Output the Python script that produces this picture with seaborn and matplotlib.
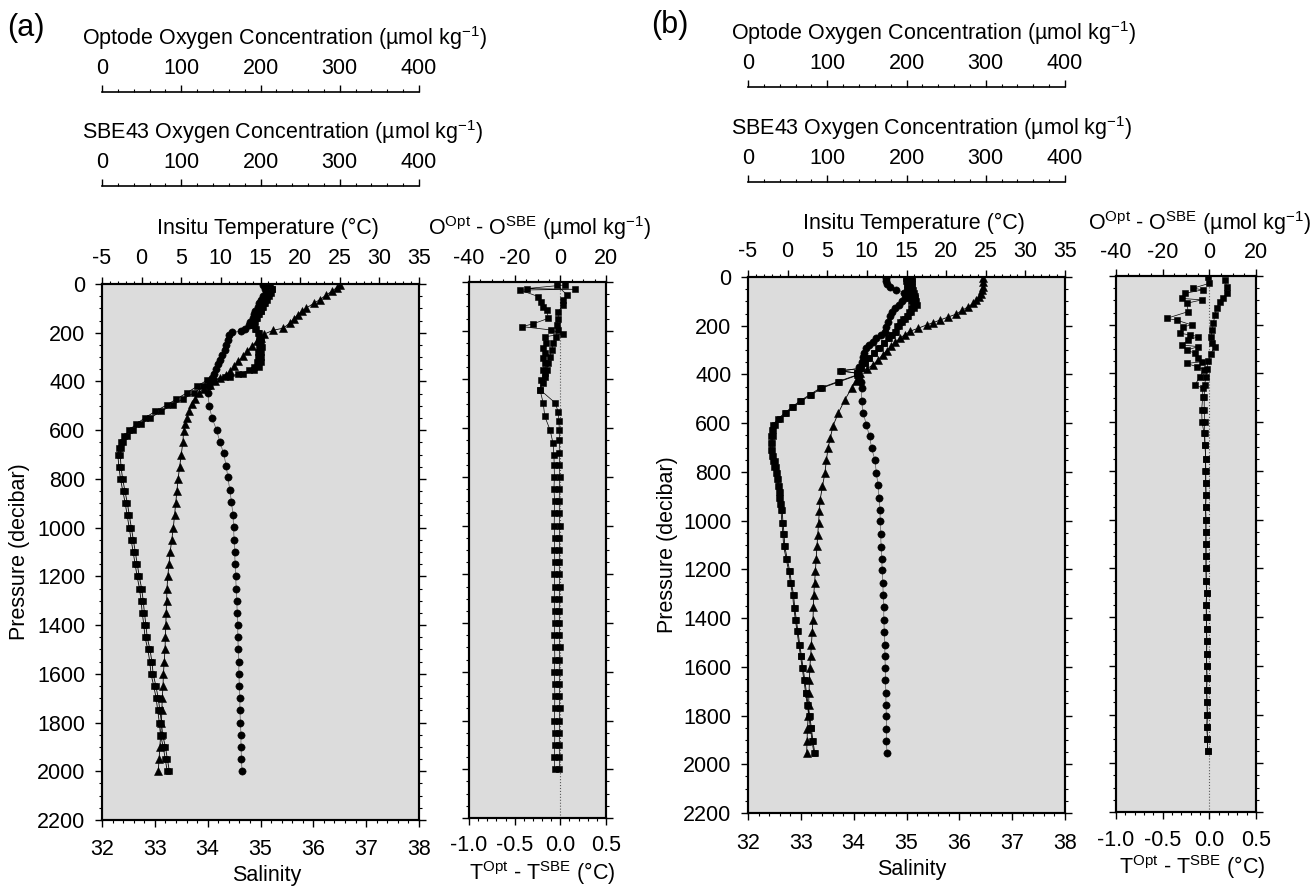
import matplotlib
matplotlib.use('Agg')
import matplotlib.pyplot as plt
from matplotlib.ticker import MultipleLocator, FormatStrFormatter
import seaborn as sns

# ---------------- data : panel (a) ----------------
P_TEMP_A = [4, 15, 30, 45, 64, 80, 98, 112, 126, 143, 160, 181, 190, 205, 220, 235, 255, 276, 297, 317,
            338, 358, 372, 386, 400, 413, 430, 447, 470, 494, 520, 549, 575, 603, 650, 700, 750, 800, 850, 900,
            950, 1000, 1050, 1100, 1150, 1200, 1250, 1300, 1350, 1400, 1450, 1500, 1550, 1600, 1650, 1700,
            1750, 1800, 1850, 1900, 1950, 2000]
TEMP_A = [25.0, 24.6, 24.0, 23.3, 22.5, 21.7, 20.8, 20.2, 19.7, 19.2, 18.7, 17.9, 16.6, 15.5, 15.0, 14.5,
          13.9, 13.3, 12.8, 12.2, 11.7, 11.2, 10.6, 9.9, 9.2, 8.6, 7.9, 7.2, 6.7, 6.3, 6.0, 5.7, 5.5, 5.3,
          5.2, 5.0, 4.8, 4.6, 4.45, 4.3, 4.15, 4.0, 3.8, 3.6, 3.45, 3.3, 3.2, 3.15, 3.1, 3.05, 3.0, 2.95,
          2.85, 2.75, 2.7, 2.6, 2.55, 2.5, 2.4, 2.3, 2.2, 2.1]

P_SAL_A = [5, 20, 35, 50, 65, 80, 95, 110, 125, 140, 155, 170, 185, 193, 197, 210, 230, 250, 270, 290,
           310, 330, 350, 370, 385, 400, 420, 447, 500, 548, 600, 648, 694, 745, 792, 846, 895, 948, 998,
           1050, 1100, 1150, 1200, 1250, 1300, 1350, 1400, 1450, 1500, 1550, 1600, 1650, 1700, 1750, 1800,
           1850, 1900, 1950, 2000]
SAL_A = [35.05, 35.08, 35.1, 35.05, 35.0, 34.98, 34.95, 34.9, 34.88, 34.85, 34.8, 34.78, 34.7, 34.64,
         34.46, 34.4, 34.38, 34.35, 34.32, 34.28, 34.24, 34.2, 34.16, 34.12, 34.08, 34.04, 34.02, 34.0,
         34.03, 34.08, 34.17, 34.23, 34.3, 34.35, 34.38, 34.42, 34.45, 34.48, 34.49, 34.5, 34.51, 34.52,
         34.53, 34.54, 34.55, 34.56, 34.57, 34.57, 34.58, 34.59, 34.59, 34.6, 34.61, 34.61, 34.62, 34.63,
         34.63, 34.64, 34.65]

P_OX_A = [5, 20, 35, 50, 65, 80, 95, 110, 125, 140, 155, 170, 185, 200, 220, 240, 260, 280, 300, 320,
          340, 355, 370, 382, 394, 420, 447, 472, 497, 523, 550, 575, 600, 625, 648, 675, 702, 750, 800,
          850, 900, 950, 1000, 1050, 1100, 1150, 1200, 1250, 1300, 1350, 1400, 1450, 1500, 1550, 1600,
          1650, 1700, 1750, 1800, 1850, 1900, 1950, 2000]
OX_SBE_A = [212, 214, 211, 208, 206, 204, 202, 200, 198, 195, 193, 192, 194, 198, 200, 201, 202, 201, 201,
            200, 198, 192, 178, 162, 140, 128, 116, 102, 89, 74, 61, 49, 39, 32, 27, 24, 23, 24, 26, 29,
            32, 34.5, 37, 39.5, 42, 44.5, 47, 50, 52, 53.5, 55.5, 57, 60.5, 63, 64.5, 68, 71, 73, 75, 76.5,
            80, 82.5, 85]
OX_OPT_A = [210.5, 215, 213.5, 211, 208, 205.3, 203.3, 200, 197, 194, 192, 190.5, 192.7, 197, 198, 198.4,
            198.7, 197.2, 196.6, 195, 192.3, 185.5, 171.6, 155.3, 132.8, 120, 107, 94, 81.5, 67, 54, 43,
            34.5, 28, 23.5, 21, 20, 21.3, 23.3, 26.3, 29.3, 31.8, 34.3, 36.8, 39.3, 41.8, 44.3, 47.3, 49.3,
            50.8, 52.8, 54.3, 57.8, 60.3, 61.8, 65.3, 68.3, 70.3, 72.3, 73.8, 77.3, 79.8, 82.3]

P_DO_A = [12, 53, 74, 94, 122, 150, 176, 197, 225, 252, 279, 306, 334, 361, 389, 415, 443, 497, 552, 607,
          662, 710, 750, 800, 850, 900, 950, 1000, 1050, 1100, 1150, 1200, 1250, 1300, 1350, 1400, 1450,
          1500, 1550, 1600, 1650, 1700, 1750, 1800, 1850, 1900, 1950, 2000]
DO_A = [-1.6, 2.9, 1.3, 1.3, -0.9, -0.9, -1.6, -1.0, -2.0, -3.1, -3.8, -4.6, -5.3, -6.0, -6.8, -7.8, -8.9,
        -7.5, -6.8, -4.5, -3.2, -2.8, -2.7, -2.6, -2.8, -2.5, -2.6, -2.7, -2.5, -2.6, -2.4, -2.6, -2.5,
        -2.7, -2.5, -2.4, -2.6, -2.5, -2.4, -2.6, -2.5, -2.4, -2.5, -2.6, -2.4, -2.5, -2.6, -2.5]

P_DT_A = [12, 27, 30, 33, 60, 81, 101, 115, 149, 172, 183, 197, 213, 225, 252, 272, 293, 313, 334, 361,
          375, 402, 443, 495, 532, 570, 607, 650, 700, 750, 800, 850, 900, 950, 1000, 1050, 1100, 1150,
          1200, 1250, 1300, 1350, 1400, 1450, 1500, 1550, 1600, 1650, 1700, 1750, 1800, 1850, 1900, 1950,
          2000]
DT_A = [0.05, -0.37, 0.16, -0.44, -0.24, -0.21, -0.19, -0.15, -0.13, -0.30, -0.42, -0.10, 0.03, -0.17,
        -0.16, -0.19, -0.17, -0.19, -0.17, -0.19, -0.17, -0.21, -0.22, -0.06, -0.023, -0.015, -0.012,
        -0.01, -0.012, -0.01, -0.008, -0.01, -0.012, -0.01, -0.008, -0.01, -0.01, -0.012, -0.01, -0.008,
        -0.01, -0.012, -0.01, -0.01, -0.008, -0.01, -0.012, -0.01, -0.01, -0.008, -0.01, -0.01, -0.012,
        -0.01, -0.01]

# ---------------- data : panel (b) ----------------
P_TEMP_B = [3, 20, 40, 55, 70, 81, 95, 108, 122, 137, 152, 165, 177, 187, 196, 210, 223, 237, 250, 268,
            285, 302, 319, 340, 360, 377, 394, 425, 455, 505, 558, 613, 660, 702, 750, 804, 859, 914, 962,
            1010, 1058, 1106, 1157, 1208, 1256, 1304, 1355, 1407, 1458, 1509, 1557, 1605, 1656, 1707, 1755,
            1803, 1855, 1906, 1953]
TEMP_B = [24.6, 24.6, 24.6, 24.5, 24.4, 24.2, 23.8, 23.4, 22.8, 22.0, 21.3, 20.2, 19.2, 18.4, 17.6, 16.5,
          15.4, 14.8, 14.2, 13.6, 13.1, 12.5, 12.0, 11.4, 10.8, 10.0, 9.1, 8.6, 8.1, 7.2, 6.4, 5.7, 5.4,
          5.1, 4.9, 4.7, 4.4, 4.1, 4.0, 3.9, 3.8, 3.7, 3.6, 3.5, 3.4, 3.3, 3.25, 3.2, 3.1, 3.0, 2.9, 2.8,
          2.75, 2.7, 2.65, 2.6, 2.5, 2.45, 2.4]

P_SAL_B = [3, 15, 28, 40, 52, 64, 76, 88, 100, 115, 129, 145, 160, 183, 205, 224, 238, 252, 266, 280,
           293, 310, 328, 347, 368, 389, 410, 432, 456, 511, 558, 606, 654, 702, 750, 804, 852, 907, 955,
           1003, 1054, 1108, 1157, 1204, 1255, 1304, 1355, 1407, 1458, 1509, 1557, 1605, 1656, 1707, 1755,
           1803, 1855, 1906, 1953]
SAL_B = [34.62, 34.62, 34.63, 34.68, 34.8, 34.95, 35.0, 34.97, 34.92, 34.85, 34.78, 34.72, 34.69, 34.65,
         34.62, 34.59, 34.52, 34.43, 34.36, 34.29, 34.24, 34.2, 34.17, 34.15, 34.11, 34.08, 34.1, 34.13,
         34.15, 34.15, 34.18, 34.24, 34.3, 34.34, 34.4, 34.43, 34.46, 34.48, 34.5, 34.5, 34.51, 34.52,
         34.53, 34.54, 34.55, 34.56, 34.57, 34.57, 34.58, 34.59, 34.59, 34.6, 34.6, 34.61, 34.61, 34.62,
         34.62, 34.62, 34.63]

P_OX_B = [3, 15, 28, 40, 52, 64, 76, 88, 100, 115, 129, 145, 160, 172, 183, 200, 224, 238, 252, 270, 293,
          313, 334, 355, 375, 385, 395, 402, 430, 456, 483, 510, 535, 558, 582, 606, 630, 654, 680, 709,
          733, 757, 780, 804, 830, 859, 882, 907, 930, 955, 1010, 1054, 1106, 1157, 1208, 1255, 1304, 1359,
          1407, 1455, 1509, 1557, 1605, 1653, 1707, 1755, 1803, 1853, 1906, 1953]
OX_SBE_B = [199, 199, 200, 200, 201, 202, 203, 204, 206, 208, 206, 203, 200, 196, 192, 188, 185, 181, 177,
            171, 164, 159, 153, 148, 143, 116, 138, 139, 115, 93, 80, 67, 57, 48.5, 40, 33.7, 32, 31.6,
            30.8, 30.3, 31.5, 33.7, 35, 36.7, 38, 38.8, 40, 41, 42, 43, 44.2, 45.5, 46.4, 49.5, 52.7, 54.8,
            57.5, 59, 61, 63, 65.3, 67.4, 69.5, 71.6, 73.8, 75.8, 78, 80, 82, 84.2]
OX_OPT_B = [207, 207, 207, 207.5, 208.5, 209.5, 210.5, 211, 211.5, 213, 209.5, 206, 202.5, 198, 194, 190,
            186.5, 182, 178, 172, 166, 159.5, 153, 147.5, 142, 118, 137, 137.5, 113, 91, 78, 65, 55, 46.5,
            38, 31.7, 30, 29.6, 29, 28.5, 29.8, 32, 33.4, 35.2, 36.5, 37.3, 38.6, 39.6, 40.6, 41.6, 42.8,
            44, 45, 48.2, 51.4, 53.6, 56.3, 57.8, 59.8, 61.9, 64.2, 66.3, 68.4, 70.5, 72.7, 74.7, 76.9,
            78.9, 80.9, 83.1]

P_DO_B = [16, 44, 71, 92, 105, 133, 160, 194, 221, 249, 276, 290, 320, 350, 380, 413, 447, 495, 550, 598,
          646, 695, 750, 800, 850, 900, 950, 1000, 1050, 1100, 1150, 1200, 1250, 1300, 1350, 1400, 1450,
          1500, 1550, 1600, 1650, 1700, 1750, 1800, 1850, 1900, 1950]
DO_B = [6.7, 7.4, 7.4, 6.0, 4.6, 3.2, 2.4, 1.7, 1.3, 0.6, 1.0, 2.4, 0.5, -0.5, -1.0, -1.5, -2.0, -2.2,
        -2.2, -2.0, -2.0, -1.8, -1.6, -1.5, -1.5, -1.4, -1.6, -1.4, -1.5, -1.3, -1.4, -1.5, -1.3, -1.2,
        -1.4, -1.3, -1.2, -1.0, -1.2, -1.1, -1.0, -1.2, -1.0, -0.9, -1.1, -0.8, -0.7]

P_DT_B = [3, 30, 50, 57, 71, 92, 98, 112, 146, 174, 181, 201, 208, 235, 242, 249, 263, 283, 290, 304,
          317, 338, 352, 359, 372, 385, 413, 447, 460, 495, 550, 598, 646, 695, 750, 800, 850, 900, 950,
          1000, 1050, 1100, 1150, 1200, 1250, 1300, 1350, 1400, 1450, 1500, 1550, 1600, 1650, 1700, 1750,
          1800, 1850, 1900, 1950]
DT_B = [-0.011, 0.0, -0.172, -0.071, -0.261, -0.296, -0.082, -0.243, -0.225, -0.457, -0.350, -0.189,
        -0.279, -0.314, -0.207, -0.118, -0.225, -0.296, -0.118, -0.243, -0.154, -0.118, -0.082, -0.243,
        -0.135, -0.057, -0.1, -0.154, -0.071, -0.071, -0.082, -0.078, -0.057, -0.046, -0.04, -0.042,
        -0.04, -0.036, -0.04, -0.038, -0.035, -0.04, -0.036, -0.033, -0.035, -0.03, -0.034, -0.03, -0.028,
        -0.03, -0.027, -0.03, -0.025, -0.028, -0.024, -0.022, -0.025, -0.02, -0.018]

# ---------------- style ----------------
sns.set_style('ticks', rc={'axes.edgecolor': 'k', 'xtick.color': 'k', 'ytick.color': 'k',
                           'text.color': 'k', 'axes.labelcolor': 'k'})
plt.rcParams['font.family'] = ['Liberation Sans', 'DejaVu Sans']
plt.rcParams['mathtext.fontset'] = 'custom'
plt.rcParams['mathtext.rm'] = 'Liberation Sans'
plt.rcParams['mathtext.it'] = 'Liberation Sans:italic'
plt.rcParams['mathtext.bf'] = 'Liberation Sans:bold'
plt.rcParams['axes.unicode_minus'] = False

W, H = 1316, 889
FS = 15.5
BG = '#dcdcdc'
MAJ, MIN = 5.0, 2.5

fig = plt.figure(figsize=(W / 100, H / 100), dpi=100)


def rect(l, t, r, b):
    return [l / W, 1 - b / H, (r - l) / W, (b - t) / H]


def ftext(x, y, s, **kw):
    kw.setdefault('fontsize', FS)
    fig.text(x / W, 1 - y / H, s, **kw)


def profile(ax, x, y, marker, ms, color='k', lw=0.6):
    sns.lineplot(x=x, y=y, ax=ax, sort=False, estimator=None, orient='y',
                 color=color, lw=lw, marker=marker, markersize=ms,
                 markerfacecolor='k', markeredgecolor='k', markeredgewidth=0.4)


def spines(ax, lw=1.5):
    for s in ax.spines.values():
        s.set_linewidth(lw)
        s.set_color('k')


def ybase(ax):
    ax.set_ylim(2200, 0)
    ax.yaxis.set_major_locator(MultipleLocator(200))
    ax.yaxis.set_minor_locator(MultipleLocator(50))
    ax.tick_params(axis='y', which='both', left=True, right=True, direction='out')
    ax.tick_params(axis='y', which='major', length=MAJ, width=1.0, labelsize=FS, pad=7)
    ax.tick_params(axis='y', which='minor', length=MIN, width=0.8)


def ox_bar(l, r, y, title, title_x):
    axo = fig.add_axes([l / W, 1 - y / H, (r - l) / W, 1e-4])
    axo.patch.set_visible(False)
    for s in ['top', 'left', 'right']:
        axo.spines[s].set_visible(False)
    axo.spines['bottom'].set_linewidth(1.2)
    axo.set_xlim(0, 400)
    axo.set_yticks([])
    axo.xaxis.set_major_locator(MultipleLocator(100))
    axo.xaxis.set_minor_locator(MultipleLocator(20))
    axo.tick_params(axis='x', which='both', direction='in', bottom=True, top=False,
                    labelbottom=False, labeltop=True)
    axo.tick_params(axis='x', which='major', length=5, width=1.0, labelsize=FS, pad=9)
    axo.tick_params(axis='x', which='minor', length=2.5, width=0.8)
    ftext(title_x, y - 54, title, ha='left', va='center')


def panel(spec):
    l, t, r, b = spec['main']
    ax = fig.add_axes(rect(*spec['main']))
    ax.set_facecolor(BG)
    ax_t = ax.twiny()
    ax_o = ax.twiny()
    profile(ax, spec['sal'], spec['p_sal'], 'o', 5.2, color='0.35', lw=0.5)
    profile(ax_t, spec['temp'], spec['p_temp'], '^', 5.8)
    profile(ax_o, spec['ox_sbe'], spec['p_ox'], 's', 4.6)
    profile(ax_o, spec['ox_opt'], spec['p_ox'], 's', 4.6)
    ax.set_xlim(32, 38)
    ax_t.set_xlim(-5, 35)
    ax_o.set_xlim(0, 400)
    ybase(ax)
    ax.set_xlabel('')
    ax.set_ylabel('')
    ax_t.set_xlabel('')
    ax_o.axis('off')
    ax.xaxis.set_major_locator(MultipleLocator(1))
    ax.xaxis.set_minor_locator(MultipleLocator(0.2))
    ax.tick_params(axis='x', which='both', bottom=True, top=False, labeltop=False, direction='out')
    ax.tick_params(axis='x', which='major', length=MAJ, width=1.0, labelsize=FS, pad=spec['pad_bot'])
    ax.tick_params(axis='x', which='minor', length=MIN, width=0.8)
    ax.tick_params(axis='y', labelright=False)
    ax_t.xaxis.set_major_locator(MultipleLocator(5))
    ax_t.xaxis.set_minor_locator(MultipleLocator(1))
    ax_t.tick_params(axis='x', which='both', top=True, bottom=False, labeltop=True,
                     labelbottom=False, direction='out')
    ax_t.tick_params(axis='x', which='major', length=MAJ, width=1.0, labelsize=FS, pad=5.5)
    ax_t.tick_params(axis='x', which='minor', length=MIN, width=0.8)
    spines(ax)
    spines(ax_t)
    ax.yaxis.set_label_coords(spec['ylab_x'], 0.5)
    ftext(spec['ylab_x_px'], (t + b) / 2, 'Pressure (decibar)', rotation=90,
          ha='center', va='center')

    # difference panel
    dl, dt, dr, db = spec['diff']
    axd = fig.add_axes(rect(*spec['diff']))
    axd.set_facecolor(BG)
    axd_o = axd.twiny()
    axd.axvline(0, color='0.35', ls=':', lw=0.8, zorder=1)
    profile(axd, spec['dt'], spec['p_dt'], 's', 4.0, lw=0.5)
    profile(axd_o, spec['do'], spec['p_do'], 's', 4.0, lw=0.5)
    axd.set_xlim(-1.0, 0.5)
    axd_o.set_xlim(-40, 20)
    ybase(axd)
    axd.tick_params(axis='y', labelleft=False, labelright=False)
    axd.set_xlabel('')
    axd.set_ylabel('')
    axd_o.set_xlabel('')
    axd.xaxis.set_major_locator(MultipleLocator(0.5))
    axd.xaxis.set_minor_locator(MultipleLocator(0.1))
    axd.xaxis.set_major_formatter(FormatStrFormatter('%.1f'))
    axd.tick_params(axis='x', which='both', bottom=True, top=False, labeltop=False, direction='out')
    axd.tick_params(axis='x', which='major', length=MAJ, width=1.0, labelsize=FS, pad=spec['pad_dbot'])
    axd.tick_params(axis='x', which='minor', length=MIN, width=0.8)
    axd_o.xaxis.set_major_locator(MultipleLocator(20))
    axd_o.xaxis.set_minor_locator(MultipleLocator(5))
    axd_o.tick_params(axis='x', which='both', top=True, bottom=False, labeltop=True,
                      labelbottom=False, direction='out')
    axd_o.tick_params(axis='x', which='major', length=MAJ, width=1.0, labelsize=FS, pad=4.5)
    axd_o.tick_params(axis='x', which='minor', length=MIN, width=0.8)
    spines(axd)
    spines(axd_o)

    # oxygen scale bars
    ox_bar(l, r, spec['ox_y'][0], r'Optode Oxygen Concentration (µmol kg$^{-1}$)', spec['title_x'])
    ox_bar(l, r, spec['ox_y'][1], r'SBE43 Oxygen Concentration (µmol kg$^{-1}$)', spec['title_x'])

    # labels
    ftext(spec['tag'][0], spec['tag'][1], spec['tag'][2], fontsize=22, ha='left', va='center')
    ftext(spec['temp_lab'][0], spec['temp_lab'][1], 'Insitu Temperature (°C)', ha='center', va='center')
    ftext(spec['o_lab'][0], spec['o_lab'][1],
          r'O$^{\mathrm{Opt}}$ - O$^{\mathrm{SBE}}$ (µmol kg$^{-1}$)', ha='center', va='center')
    ftext(spec['sal_lab'][0], spec['sal_lab'][1], 'Salinity', ha='center', va='center')
    ftext(spec['t_lab'][0], spec['t_lab'][1],
          r'T$^{\mathrm{Opt}}$ - T$^{\mathrm{SBE}}$ (°C)', ha='center', va='center')


SPEC_A = dict(main=(102, 284, 419, 820), diff=(469, 282, 606, 818),
              p_sal=P_SAL_A, sal=SAL_A, p_temp=P_TEMP_A, temp=TEMP_A,
              p_ox=P_OX_A, ox_sbe=OX_SBE_A, ox_opt=OX_OPT_A,
              p_do=P_DO_A, do=DO_A, p_dt=P_DT_A, dt=DT_A,
              pad_bot=8.5, pad_dbot=7.2, ylab_x=-0.26, ylab_x_px=20,
              ox_y=(92, 186), title_x=82, tag=(7, 28, '(a)'),
              temp_lab=(268, 228), o_lab=(540, 228), sal_lab=(267, 875), t_lab=(542, 873))
SPEC_B = dict(main=(748, 277, 1065, 813), diff=(1116, 276, 1256, 812),
              p_sal=P_SAL_B, sal=SAL_B, p_temp=P_TEMP_B, temp=TEMP_B,
              p_ox=P_OX_B, ox_sbe=OX_SBE_B, ox_opt=OX_OPT_B,
              p_do=P_DO_B, do=DO_B, p_dt=P_DT_B, dt=DT_B,
              pad_bot=9.2, pad_dbot=8.0, ylab_x=-0.25, ylab_x_px=668,
              ox_y=(87, 182), title_x=731, tag=(651, 25, '(b)'),
              temp_lab=(914, 223), o_lab=(1200, 223), sal_lab=(912, 870), t_lab=(1192, 867))

panel(SPEC_A)
panel(SPEC_B)

fig.savefig('out.png', dpi=100)
